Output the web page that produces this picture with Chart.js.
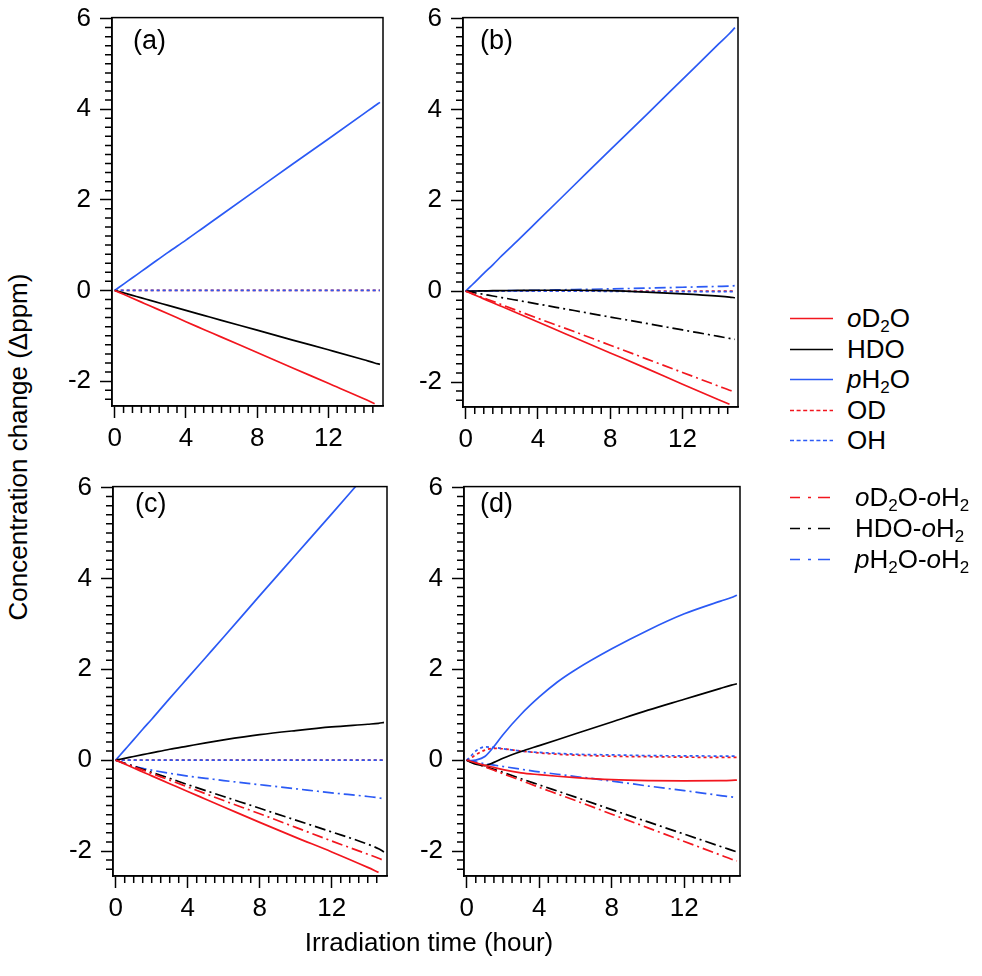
<!DOCTYPE html>
<html>
<head>
<meta charset="utf-8">
<script src="https://cdn.jsdelivr.net/npm/chart.js@4.4.0/dist/chart.umd.min.js"></script>
<style>
  html, body { margin: 0; padding: 0; background: #fff; }
  body {
    width: 982px; height: 976px; position: relative; overflow: hidden;
    font-family: "Liberation Sans", Arial, Helvetica, sans-serif; color: #000;
  }
  canvas { position: absolute; }
  .lbl { position: absolute; font-size: 27px; line-height: 27px; white-space: nowrap; }
  .ytitle {
    position: absolute; left: 18px; top: 447px; font-size: 26px; white-space: nowrap;
    transform: translate(-50%, -50%) rotate(-90deg);
  }
  .xtitle {
    position: absolute; left: 429px; top: 942px; font-size: 26px; white-space: nowrap;
    transform: translate(-50%, -50%);
  }
  .leg { position: absolute; height: 30px; line-height: 30px; font-size: 26px; white-space: nowrap; }
  .leg svg { position: absolute; left: 0; top: 14px; }
  .leg span { position: absolute; top: 0; }
  .leg sub { font-size: 17px; vertical-align: -5px; line-height: 0; }
</style>
</head>
<body>
<canvas id="panelA"></canvas>
<canvas id="panelB"></canvas>
<canvas id="panelC"></canvas>
<canvas id="panelD"></canvas>

<div class="lbl" style="left:133px; top:27px;">(a)</div>
<div class="lbl" style="left:480px; top:27px;">(b)</div>
<div class="lbl" style="left:135px; top:490px;">(c)</div>
<div class="lbl" style="left:480px; top:490px;">(d)</div>

<div class="ytitle">Concentration change (Δppm)</div>
<div class="xtitle">Irradiation time (hour)</div>

<div id="legend"></div>

<script>
// --- DADOS ---
const hours = [0, 0.25, 0.5, 1, 1.5, 2, 3, 4, 5, 6, 8, 10, 12, 14, 14.6, 14.9];
const xTicks = [0, 4, 8, 12];
const yTicks = [-2, 0, 2, 4, 6];

// (a)
const a_oD2O = [0, -0.043, -0.086, -0.172, -0.258, -0.344, -0.515, -0.69, -0.86, -1.03, -1.37, -1.71, -2.05, -2.39, -2.50, null];
const a_HDO  = [0, -0.027, -0.055, -0.11, -0.164, -0.22, -0.33, -0.44, -0.55, -0.66, -0.875, -1.095, -1.31, -1.53, -1.60, -1.63];
const a_pH2O = [0, 0.07, 0.14, 0.28, 0.42, 0.56, 0.84, 1.11, 1.39, 1.67, 2.23, 2.79, 3.34, 3.90, 4.07, 4.15];
const a_OD   = [0, 0, 0, 0, 0, 0, 0, 0, 0, 0, 0, 0, 0, 0, 0, 0];
const a_OH   = [0, 0, 0, 0, 0, 0, 0, 0, 0, 0, 0, 0, 0, 0, 0, 0];

// (b)
const b_oD2O = [0, -0.043, -0.085, -0.17, -0.255, -0.34, -0.51, -0.68, -0.85, -1.02, -1.36, -1.70, -2.05, -2.39, -2.49, null];
const b_HDO  = [0, 0, 0.003, 0.006, 0.01, 0.012, 0.016, 0.02, 0.02, 0.02, 0.01, -0.02, -0.06, -0.11, -0.13, -0.145];
const b_pH2O = [0, 0.097, 0.194, 0.39, 0.58, 0.78, 1.16, 1.55, 1.94, 2.33, 3.11, 3.88, 4.66, 5.44, 5.67, 5.80];
const b_OD   = [0, 0, 0, 0, 0, 0, 0, 0, 0, 0, 0, 0, 0, 0, 0, 0];
const b_OH   = [0, 0, 0, 0, 0, 0, 0, 0, 0, 0, -0.005, -0.01, -0.01, -0.01, -0.01, -0.01];
const b_oD2O_oH2 = [0, -0.037, -0.075, -0.15, -0.224, -0.30, -0.45, -0.60, -0.745, -0.89, -1.19, -1.49, -1.79, -2.09, -2.18, -2.22];
const b_HDO_oH2  = [0, -0.018, -0.036, -0.071, -0.107, -0.142, -0.213, -0.284, -0.356, -0.427, -0.57, -0.71, -0.854, -0.996, -1.04, -1.06];
const b_pH2O_oH2 = [0, 0, 0.001, 0.003, 0.005, 0.008, 0.013, 0.02, 0.027, 0.034, 0.05, 0.066, 0.085, 0.105, 0.112, 0.12];

// (c)
const c_oD2O = [0, -0.043, -0.087, -0.174, -0.26, -0.346, -0.518, -0.69, -0.86, -1.03, -1.37, -1.70, -2.02, -2.36, -2.47, null];
const c_HDO  = [0, 0.02, 0.04, 0.08, 0.12, 0.16, 0.24, 0.31, 0.38, 0.445, 0.56, 0.65, 0.73, 0.79, 0.81, 0.83];
const c_pH2O = [0, 0.113, 0.226, 0.452, 0.68, 0.90, 1.36, 1.81, 2.26, 2.71, 3.62, 4.52, 5.42, 6.33, 6.60, 6.73];
const c_OD   = [0, 0, 0, 0, 0, 0, 0, 0, 0, 0, 0, 0, 0, 0, 0, 0];
const c_OH   = [0, 0, 0, 0, 0, 0, 0, 0, 0, 0, 0, 0, 0, 0, 0, 0];
const c_oD2O_oH2 = [0, -0.037, -0.074, -0.148, -0.22, -0.295, -0.44, -0.59, -0.74, -0.89, -1.18, -1.48, -1.78, -2.07, -2.16, -2.21];
const c_HDO_oH2  = [0, -0.034, -0.068, -0.135, -0.20, -0.27, -0.40, -0.54, -0.67, -0.80, -1.06, -1.32, -1.58, -1.85, -1.95, -2.02];
const c_pH2O_oH2 = [0, -0.035, -0.07, -0.13, -0.18, -0.22, -0.29, -0.35, -0.40, -0.45, -0.54, -0.63, -0.72, -0.80, -0.83, -0.85];

// (d)
const d_oD2O = [0, -0.03, -0.06, -0.115, -0.16, -0.21, -0.28, -0.32, -0.355, -0.385, -0.43, -0.45, -0.455, -0.45, -0.445, -0.44];
const d_HDO  = [0, -0.05, -0.09, -0.12, -0.05, 0.04, 0.19, 0.32, 0.45, 0.58, 0.84, 1.10, 1.34, 1.58, 1.65, 1.68];
const d_pH2O = [0, -0.01, 0.0, 0.08, 0.30, 0.56, 1.01, 1.39, 1.72, 1.99, 2.45, 2.86, 3.22, 3.50, 3.58, 3.63];
const d_OD   = [0, 0.05, 0.12, 0.22, 0.26, 0.25, 0.20, 0.16, 0.13, 0.11, 0.085, 0.075, 0.065, 0.06, 0.06, 0.06];
const d_OH   = [0, 0.10, 0.20, 0.29, 0.28, 0.25, 0.20, 0.17, 0.15, 0.13, 0.115, 0.10, 0.095, 0.09, 0.09, 0.09];
const d_oD2O_oH2 = [0, -0.037, -0.075, -0.149, -0.224, -0.30, -0.447, -0.60, -0.745, -0.89, -1.19, -1.49, -1.79, -2.09, -2.18, -2.22];
const d_HDO_oH2  = [0, -0.034, -0.068, -0.136, -0.204, -0.27, -0.41, -0.545, -0.68, -0.815, -1.09, -1.36, -1.63, -1.90, -1.98, -2.02];
const d_pH2O_oH2 = [0, -0.02, -0.04, -0.08, -0.11, -0.14, -0.20, -0.26, -0.31, -0.36, -0.46, -0.57, -0.67, -0.78, -0.81, -0.83];

// --- ESTILOS ---
const RED = '#f2161e';
const BLUE = '#2b5af5';
const BLACK = '#000000';
const DOT = [3, 3];
const DASHDOT = [11, 4, 2, 4];
const STYLE = {
  oD2O: { color: RED, dash: [] },
  HDO: { color: BLACK, dash: [] },
  pH2O: { color: BLUE, dash: [] },
  OH: { color: BLUE, dash: DOT },
  OD: { color: RED, dash: DOT },
  oD2O_oH2: { color: RED, dash: DASHDOT },
  HDO_oH2: { color: BLACK, dash: DASHDOT },
  pH2O_oH2: { color: BLUE, dash: DASHDOT },
};

const X_MIN = -0.15, X_MAX = 15.07;
const Y_MIN = -2.55, Y_MAX = 6.02;
const FONT = { family: '"Liberation Sans", Arial, Helvetica, sans-serif', size: 26 };

// moldura + ticks menores
const framePlugin = {
  id: 'frame',
  afterDraw(chart) {
    const { ctx, chartArea: a } = chart;
    const xs = chart.scales.x, ys = chart.scales.y;
    ctx.save();
    ctx.strokeStyle = '#000';
    ctx.lineWidth = 1.5;
    ctx.strokeRect(a.left, a.top, a.right - a.left, a.bottom - a.top);
    ctx.beginPath();
    for (let k = -12; k <= 30; k++) {
      if (k % 10 === 0) continue;
      const v = k * 0.2;
      if (v < Y_MIN || v > Y_MAX) continue;
      const py = ys.getPixelForValue(v);
      ctx.moveTo(a.left, py);
      ctx.lineTo(a.left - 7, py);
    }
    for (let k = 0; k <= 29; k++) {
      if (k % 8 === 0) continue;
      const px = xs.getPixelForValue(k * 0.5);
      ctx.moveTo(px, a.bottom);
      ctx.lineTo(px, a.bottom + 7);
    }
    ctx.stroke();
    ctx.restore();
  },
};

function makePanel(id, frame, series) {
  const PAD_L = 70, PAD_T = 20, PAD_R = 15, PAD_B = 60;
  const canvas = document.getElementById(id);
  canvas.width = frame.r - frame.l + PAD_L + PAD_R;
  canvas.height = frame.b - frame.t + PAD_T + PAD_B;
  canvas.style.left = (frame.l - PAD_L) + 'px';
  canvas.style.top = (frame.t - PAD_T) + 'px';

  const datasets = series.map(([key, vals]) => ({
    label: key,
    data: hours.map((t, i) => ({ x: t, y: vals[i] })),
    borderColor: STYLE[key].color,
    borderDash: STYLE[key].dash,
    borderWidth: 1.7,
    pointRadius: 0,
    fill: false,
    cubicInterpolationMode: 'monotone',
  }));

  return new Chart(canvas, {
    type: 'line',
    data: { datasets },
    options: {
      responsive: false,
      animation: false,
      events: [],
      layout: { padding: { top: PAD_T, right: PAD_R, left: 0, bottom: 0 } },
      plugins: { legend: { display: false }, tooltip: { enabled: false } },
      scales: {
        x: {
          type: 'linear', min: X_MIN, max: X_MAX,
          afterFit: (s) => { s.height = PAD_B; },
          afterBuildTicks: (s) => { s.ticks = xTicks.map((v) => ({ value: v })); },
          grid: { drawOnChartArea: false, tickLength: 12, tickWidth: 1.5, tickColor: '#000' },
          border: { color: '#000', width: 1.5 },
          ticks: { color: '#000', font: FONT, padding: 5, maxRotation: 0, autoSkip: false },
        },
        y: {
          type: 'linear', min: Y_MIN, max: Y_MAX,
          afterFit: (s) => { s.width = PAD_L; },
          afterBuildTicks: (s) => { s.ticks = yTicks.map((v) => ({ value: v })); },
          grid: { drawOnChartArea: false, tickLength: 12, tickWidth: 1.5, tickColor: '#000' },
          border: { color: '#000', width: 1.5 },
          ticks: { color: '#000', font: FONT, padding: 9, autoSkip: false },
        },
      },
    },
    plugins: [framePlugin],
  });
}

makePanel('panelA', { l: 112, t: 13, r: 383, b: 406 }, [
  ['oD2O', a_oD2O], ['HDO', a_HDO], ['pH2O', a_pH2O], ['OH', a_OH], ['OD', a_OD],
]);
makePanel('panelB', { l: 463, t: 13, r: 738, b: 407 }, [
  ['oD2O', b_oD2O], ['HDO', b_HDO], ['pH2O', b_pH2O], ['OH', b_OH], ['OD', b_OD],
  ['oD2O_oH2', b_oD2O_oH2], ['HDO_oH2', b_HDO_oH2], ['pH2O_oH2', b_pH2O_oH2],
]);
makePanel('panelC', { l: 113, t: 482, r: 387, b: 876 }, [
  ['oD2O', c_oD2O], ['HDO', c_HDO], ['pH2O', c_pH2O], ['OH', c_OH], ['OD', c_OD],
  ['oD2O_oH2', c_oD2O_oH2], ['HDO_oH2', c_HDO_oH2], ['pH2O_oH2', c_pH2O_oH2],
]);
makePanel('panelD', { l: 464, t: 482, r: 740, b: 876 }, [
  ['oD2O', d_oD2O], ['HDO', d_HDO], ['pH2O', d_pH2O], ['OH', d_OH], ['OD', d_OD],
  ['oD2O_oH2', d_oD2O_oH2], ['HDO_oH2', d_HDO_oH2], ['pH2O_oH2', d_pH2O_oH2],
]);

// --- LEGENDA ---
const legendKeys = ['oD2O', 'HDO', 'pH2O', 'OD', 'OH', 'oD2O_oH2', 'HDO_oH2', 'pH2O_oH2'];
const legendNames = [
  '<i>o</i>D<sub>2</sub>O', 'HDO', '<i>p</i>H<sub>2</sub>O', 'OD', 'OH',
  '<i>o</i>D<sub>2</sub>O-<i>o</i>H<sub>2</sub>', 'HDO-<i>o</i>H<sub>2</sub>', '<i>p</i>H<sub>2</sub>O-<i>o</i>H<sub>2</sub>',
];
const legendRows = [318, 348.5, 379, 409.5, 440, 497, 528, 559];
const legendEl = document.getElementById('legend');
legendKeys.forEach((key, i) => {
  const st = STYLE[key];
  const isDashDot = st.dash === DASHDOT;
  const lineLen = isDashDot ? 40 : 43;
  const dashAttr = st.dash === DOT ? '4 2.6' : (isDashDot ? '10 8 3 7 12' : 'none');
  const row = document.createElement('div');
  row.className = 'leg';
  row.style.left = '790px';
  row.style.top = (legendRows[i] - 15) + 'px';
  row.innerHTML =
    `<svg width="${lineLen}" height="3"><line x1="0" y1="1.5" x2="${lineLen}" y2="1.5" stroke="${st.color}" stroke-width="1.5" stroke-dasharray="${dashAttr}"/></svg>` +
    `<span style="left:${isDashDot ? 65 : 57}px">${legendNames[i]}</span>`;
  legendEl.appendChild(row);
});
</script>
</body>
</html>
